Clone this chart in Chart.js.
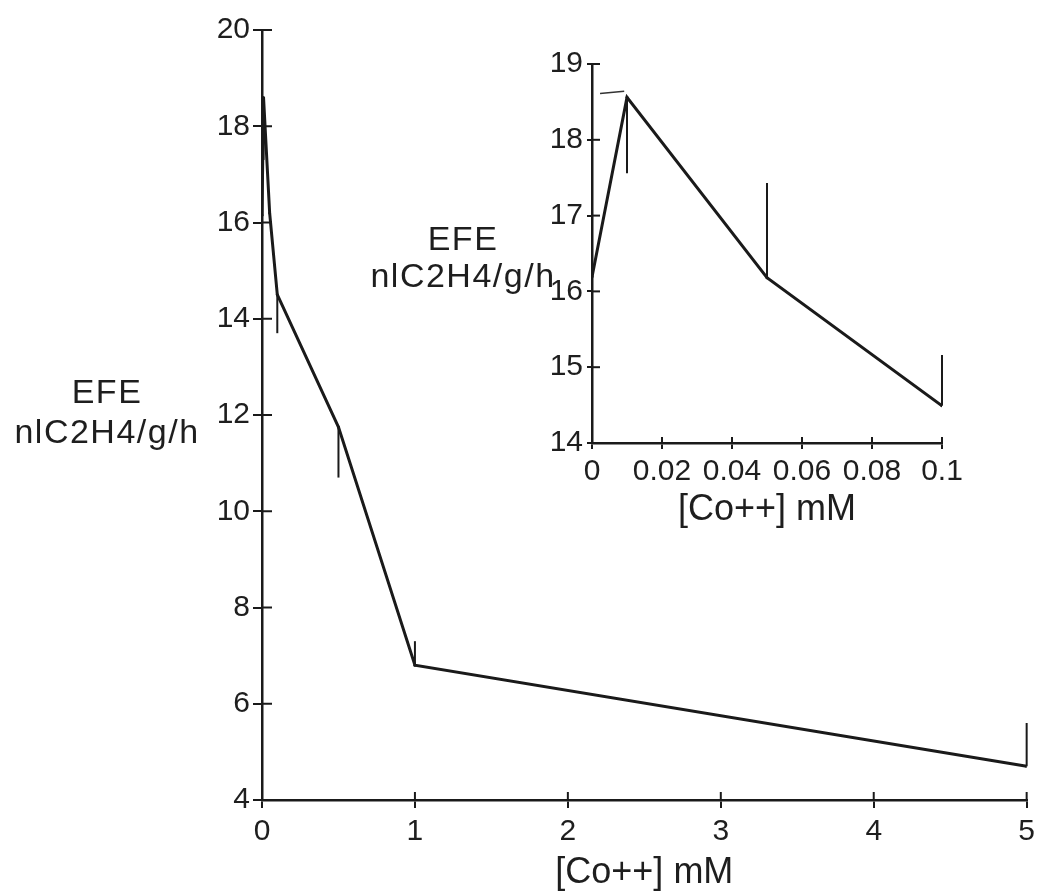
<!DOCTYPE html>
<html>
<head>
<meta charset="utf-8">
<script src="https://cdn.jsdelivr.net/npm/chart.js@4/dist/chart.umd.min.js"></script>
<style>
html,body{margin:0;padding:0;background:#fff;}
#wrap{position:relative;width:1041px;height:895px;overflow:hidden;background:#fff;}
#main{position:absolute;left:0;top:0;width:1041px;height:895px;}
#inset{position:absolute;left:520px;top:0;width:521px;height:560px;}
.ytitle{position:absolute;font-family:"Liberation Sans",Arial,sans-serif;color:#1e1e1e;text-align:center;white-space:nowrap;font-size:34px;letter-spacing:1.5px;line-height:40px;}
</style>
</head>
<body>
<div id="wrap">
<canvas id="main" width="1041" height="895"></canvas>
<canvas id="inset" width="521" height="560"></canvas>
<div class="ytitle" style="left:0px;top:371px;width:214px;">EFE<br>nlC2H4/g/h</div>
<div class="ytitle" style="left:363px;top:220px;width:200px;line-height:37px;">EFE<br>nlC2H4/g/h</div>
</div>
<script>
// ---- main chart data ----
const mainX = [0, 0.01, 0.05, 0.1, 0.5, 1, 5];
const mainY = [16.15, 18.6, 16.2, 14.5, 11.75, 6.8, 4.7];
const mainErrEnd = [null, 17.3, null, 13.7, 10.7, 7.3, 5.6];
const mainXTicks = [0, 1, 2, 3, 4, 5];
const mainYTicks = [4, 6, 8, 10, 12, 14, 16, 18, 20];

// ---- inset chart data ----
const insetX = [0, 0.01, 0.05, 0.1];
const insetY = [16.19, 18.56, 16.18, 14.49];
const insetErrEnd = [16.47, 17.56, 17.43, 15.16];
const insetXTicks = [0, 0.02, 0.04, 0.06, 0.08, 0.1];
const insetXTickLabels = ['0', '0.02', '0.04', '0.06', '0.08', '0.1'];
const insetYTicks = [14, 15, 16, 17, 18, 19];
const insetCapX = [0.0023, 0.0092];
const insetCapY = [18.61, 18.64];

const xTitle = '[Co++] mM';
const INK = '#1a1a1a';
const FONT = '"Liberation Sans", Arial, sans-serif';

const decor = {
  id: 'decor',
  afterDatasetsDraw(chart, args, o) {
    const ctx = chart.ctx;
    const x = chart.scales.x, y = chart.scales.y;
    ctx.save();
    ctx.strokeStyle = INK;
    ctx.lineWidth = o.tickWidth;
    x.ticks.forEach(t => {
      const px = x.getPixelForValue(t.value);
      ctx.beginPath(); ctx.moveTo(px, y.bottom); ctx.lineTo(px, y.bottom - o.inX); ctx.stroke();
    });
    y.ticks.forEach(t => {
      const py = y.getPixelForValue(t.value);
      ctx.beginPath(); ctx.moveTo(x.left, py); ctx.lineTo(x.left + o.inY, py); ctx.stroke();
    });
    ctx.lineWidth = o.errWidth;
    o.xs.forEach((xv, i) => {
      const e = o.errs[i];
      if (e === null || e === undefined) return;
      const px = x.getPixelForValue(xv);
      ctx.beginPath();
      ctx.moveTo(px, y.getPixelForValue(o.ys[i]));
      ctx.lineTo(px, y.getPixelForValue(e));
      ctx.stroke();
    });
    ctx.restore();
  }
};

function makeChart(id, cfg) {
  return new Chart(document.getElementById(id), {
    type: 'line',
    data: { datasets: cfg.datasets },
    options: {
      responsive: false,
      animation: false,
      events: [],
      layout: { padding: cfg.padding },
      plugins: {
        legend: { display: false },
        tooltip: { enabled: false },
        decor: { xs: cfg.xs, ys: cfg.ys, errs: cfg.errs, inX: cfg.inX, inY: cfg.inY, tickWidth: 2, errWidth: 2 }
      },
      scales: {
        x: {
          type: 'linear', min: cfg.xMin, max: cfg.xMax,
          afterBuildTicks: s => { s.ticks = cfg.xTicks.map(v => ({ value: v })); },
          afterFit: s => { s.height = cfg.xHeight; },
          ticks: {
            autoSkip: false, maxRotation: 0, padding: cfg.xPad,
            color: '#1e1e1e', font: { family: FONT, size: 30 },
            callback: (v) => cfg.xLabel(v)
          },
          grid: { display: true, drawOnChartArea: false, drawTicks: true, tickLength: cfg.outX, lineWidth: 2, color: INK },
          border: { display: true, width: 2.5, color: INK },
          title: { display: true, text: xTitle, color: '#1e1e1e', font: { family: FONT, size: 36, lineHeight: 1.2 }, padding: { top: 0, bottom: cfg.titlePad } }
        },
        y: {
          type: 'linear', min: cfg.yMin, max: cfg.yMax,
          afterBuildTicks: s => { s.ticks = cfg.yTicks.map(v => ({ value: v })); },
          afterFit: s => { s.width = cfg.yWidth; },
          ticks: {
            autoSkip: false, padding: cfg.yPad,
            color: '#1e1e1e', font: { family: FONT, size: 30 },
            callback: v => String(v)
          },
          grid: { display: true, drawOnChartArea: false, drawTicks: true, tickLength: cfg.outY, lineWidth: 2, color: INK },
          border: { display: true, width: 2.5, color: INK }
        }
      }
    },
    plugins: [decor]
  });
}

makeChart('main', {
  datasets: [{
    data: mainX.map((v, i) => ({ x: v, y: mainY[i] })),
    borderColor: INK, borderWidth: 3, pointRadius: 1.5, pointBackgroundColor: INK, pointBorderWidth: 0, tension: 0, fill: false
  }],
  xs: mainX, ys: mainY, errs: mainErrEnd,
  xMin: 0, xMax: 5, yMin: 4, yMax: 20,
  xTicks: mainXTicks, yTicks: mainYTicks,
  xLabel: v => String(v),
  padding: { left: 0, right: 13, top: 30, bottom: 0 },
  xHeight: 95, yWidth: 262,
  outX: 8, inX: 8, outY: 9, inY: 10,
  xPad: 6, yPad: 3, titlePad: 0
});

makeChart('inset', {
  datasets: [{
    data: insetX.map((v, i) => ({ x: v, y: insetY[i] })),
    borderColor: INK, borderWidth: 3, pointRadius: 1.5, pointBackgroundColor: INK, pointBorderWidth: 0, tension: 0, fill: false
  }, {
    data: insetCapX.map((v, i) => ({ x: v, y: insetCapY[i] })),
    borderColor: '#333', borderWidth: 1.5, pointRadius: 0, tension: 0, fill: false
  }],
  xs: insetX, ys: insetY, errs: insetErrEnd,
  xMin: 0, xMax: 0.1, yMin: 14, yMax: 19,
  xTicks: insetXTicks, yTicks: insetYTicks,
  xLabel: v => insetXTickLabels[insetXTicks.findIndex(t => Math.abs(t - v) < 1e-9)],
  padding: { left: 0, right: 99, top: 64, bottom: 0 },
  xHeight: 117, yWidth: 72,
  outX: 6, inX: 6, outY: 5, inY: 8,
  xPad: 5, yPad: 4, titlePad: 28
});
</script>
</body>
</html>
